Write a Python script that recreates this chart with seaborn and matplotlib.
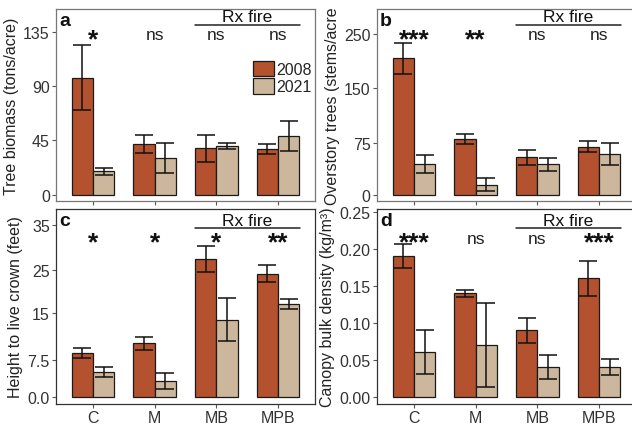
#four panel bar chart, 2008 vs 2021 by treatment
#values (means and error bars)

import pandas as pd
import matplotlib.pyplot as plt
import matplotlib.patches as mpatches
import seaborn as sns

#data
treatments = ["C", "M", "MB", "MPB"]
years = ["2008", "2021"]

biomass_2008 = [97, 42, 38.6, 38]
biomass_2021 = [19.3, 30.6, 40.8, 48.9]
biomass_err_2008 = [27, 7.3, 11.2, 4]
biomass_err_2021 = [3.1, 12.4, 2.5, 12.4]
biomass_sig = ["*", "ns", "ns", "ns"]

trees_2008 = [191, 79, 53.4, 68]
trees_2021 = [43.6, 15, 43.2, 57.2]
trees_err_2008 = [22, 7, 10.5, 8]
trees_err_2021 = [13, 9.5, 9.4, 15.2]
trees_sig = ["***", "**", "ns", "ns"]

crown_2008 = [8.9, 10.9, 28.0, 25.1]
crown_2021 = [5.1, 3.2, 15.7, 18.9]
crown_err_2008 = [0.95, 1.35, 2.65, 1.7]
crown_err_2021 = [1.0, 1.6, 4.4, 1.0]
crown_sig = ["*", "*", "*", "**"]

cbd_2008 = [0.19, 0.14, 0.09, 0.16]
cbd_2021 = [0.06, 0.07, 0.04, 0.04]
cbd_err_2008 = [0.016, 0.005, 0.017, 0.024]
cbd_err_2021 = [0.03, 0.057, 0.016, 0.011]
cbd_sig = ["***", "ns", "ns", "***"]

#tick labels as printed in the figure (some sit off their nominal value)
biomass_ticks = [0, 45, 90, 135]
biomass_ticklabels = ["0", "45", "90", "135"]
trees_ticks = [0, 73, 149, 225]
trees_ticklabels = ["0", "75", "150", "250"]
crown_ticks = [0, 7.5, 17, 25.8, 35]
crown_ticklabels = ["0.0", "7.5", "15", "25", "35"]
cbd_ticks = [0, 0.05, 0.10, 0.15, 0.20, 0.25]
cbd_ticklabels = ["0.00", "0.05", "0.10", "0.15", "0.20", "0.25"]

colors = {"2008": "#B4522F", "2021": "#CCB69C"}

sns.set_theme(style="white")
plt.rcParams["font.family"] = ["Liberation Sans", "DejaVu Sans"]

fig = plt.figure(figsize=(6.32, 4.27), dpi=100)
w = 259 / 632
ax_a = fig.add_axes([56 / 632, 1 - 202 / 427, w, 192 / 427])
ax_b = fig.add_axes([377 / 632, 1 - 202 / 427, w, 192 / 427])
ax_c = fig.add_axes([56 / 632, 1 - 405 / 427, w, 195 / 427])
ax_d = fig.add_axes([377 / 632, 1 - 405 / 427, w, 195 / 427])


def panel(ax, v08, v21, e08, e21, sig, ylim, ticks, ticklabels, ylabel, letter,
          top_row, frame_col, ypos):
    df = pd.DataFrame({
        "treatment": treatments * 2,
        "year": [years[0]] * 4 + [years[1]] * 4,
        "value": v08 + v21,
    })
    sns.barplot(data=df, x="treatment", y="value", hue="year", palette=colors,
                width=0.69, gap=0, errorbar=None, saturation=1,
                edgecolor="#1a1a1a", linewidth=0.9, legend=False, ax=ax)
    #error bars on top of each bar
    for cont, errs in zip(ax.containers, [e08, e21]):
        xs = [b.get_x() + b.get_width() / 2 for b in cont]
        ys = [b.get_height() for b in cont]
        ax.errorbar(xs, ys, yerr=errs, fmt="none", ecolor="#111111",
                    elinewidth=1.1, capsize=6.5, capthick=1.1)
    ax.set_xlim(-0.6, 3.6)
    ax.set_ylim(*ylim)
    ax.set_yticks(ticks)
    ax.set_yticklabels(ticklabels)
    ax.set_xlabel("")
    ax.set_ylabel(ylabel, fontsize=11.5, color="#222222", labelpad=3)
    if top_row:
        ax.set_xticklabels([])
    ax.tick_params(axis="both", direction="out", length=3, width=0.8,
                   color="#555555", labelsize=11.5, labelcolor="#333333", pad=1.5)
    ax.tick_params(axis="both", bottom=True, left=True)
    for s in ax.spines.values():
        s.set_color(frame_col)
        s.set_linewidth(0.9)

    trans = ax.get_xaxis_transform()
    ns_y, star_y, rx_y, line_y = ypos
    for i, s in enumerate(sig):
        if s == "ns":
            ax.text(i, ns_y, s, transform=trans, ha="center", va="baseline",
                    fontsize=12.5, color="#222222")
        else:
            ax.text(i, star_y, s, transform=trans, ha="center", va="baseline",
                    fontsize=19, fontweight="bold", color="#111111")
    ax.text(2.5, rx_y, "Rx fire", transform=trans, ha="center", va="baseline",
            fontsize=12.5, color="#111111")
    ax.plot([1.66, 3.36], [line_y, line_y], transform=trans, color="#222222",
            lw=1.1, clip_on=False)
    ax.text(0.012, 0.985, letter, transform=ax.transAxes, ha="left", va="top",
            fontsize=14, fontweight="bold", color="#111111")


top_pos = (0.845, 0.808, 0.937, 0.918)
bot_pos = (0.826, 0.795, 0.92, 0.902)

panel(ax_a, biomass_2008, biomass_2021, biomass_err_2008, biomass_err_2021,
      biomass_sig, (-5.2, 154), biomass_ticks, biomass_ticklabels,
      "Tree biomass (tons/acre)", "a", True, "#777777", top_pos)
panel(ax_b, trees_2008, trees_2021, trees_err_2008, trees_err_2021,
      trees_sig, (-7.8, 259.8), trees_ticks, trees_ticklabels,
      "Overstory trees (stems/acre", "b", True, "#777777", top_pos)
panel(ax_c, crown_2008, crown_2021, crown_err_2008, crown_err_2021,
      crown_sig, (-1.5, 38.3), crown_ticks, crown_ticklabels,
      "Height to live crown (feet)", "c", False, "#333333", bot_pos)
panel(ax_d, cbd_2008, cbd_2021, cbd_err_2008, cbd_err_2021,
      cbd_sig, (-0.010, 0.254), cbd_ticks, cbd_ticklabels,
      "Canopy bulk density (kg/m³)", "d", False, "#333333", bot_pos)

#legend in panel a
handles = [mpatches.Patch(facecolor=colors[y], edgecolor="#1a1a1a", linewidth=0.9)
           for y in years]
ax_a.legend(handles, years, loc="upper left", bbox_to_anchor=(0.76, 0.73),
            frameon=False, fontsize=11.5, handlelength=1.3, handleheight=1.1,
            handletextpad=0.15, labelspacing=0.08, borderpad=0, borderaxespad=0)

fig.savefig("out.png", dpi=100)
plt.close()
